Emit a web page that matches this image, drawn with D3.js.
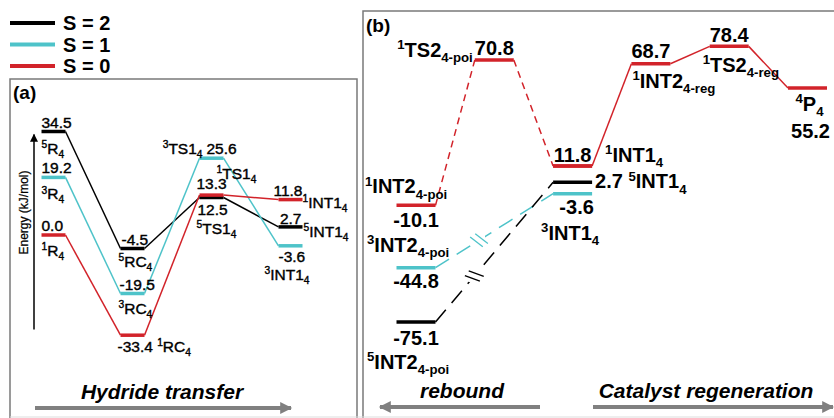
<!DOCTYPE html>
<html>
<head>
<meta charset="utf-8">
<script src="https://cdn.jsdelivr.net/npm/d3@7"></script>
<style>
  body { margin: 0; background: #fff; }
  svg { display: block; font-family: 'Liberation Sans', Arial, sans-serif; }
  .thin { stroke: #000; stroke-width: 0.4px; }
</style>
</head>
<body>
<div id="chart"></div>
<script>
// spin states and colours
const spins = ['S = 2', 'S = 1', 'S = 0'];
const spinColors = ['#000000', '#4ec3c9', '#d2232a'];

// panel (a): hydride transfer
const stagesA = ['R', 'RC', 'TS1', 'INT1'];
const quintetA = [34.5, -4.5, 12.5, 2.7];
const tripletA = [19.2, -19.5, 25.6, -3.6];
const singletA = [0.0, -33.4, 13.3, 11.8];

// panel (b): rebound / catalyst regeneration
const stagesB = ['INT2-poi', 'TS2-poi', 'INT1', 'INT2-reg', 'TS2-reg', 'P'];
const singletRebound = [-10.1, 70.8, 11.8];          // INT2-poi -> TS2-poi -> INT1
const singletRegen = [11.8, 68.7, 78.4, 55.2];       // INT1 -> INT2-reg -> TS2-reg -> P
const tripletB = [-44.8, -3.6];                      // INT2-poi -> INT1
const quintetB = [-75.1, 2.7];                       // INT2-poi -> INT1

const W = 834, H = 418;
const svg = d3.select('#chart').append('svg')
  .attr('width', W).attr('height', H);

// arrow markers
const defs = svg.append('defs');
defs.append('marker').attr('id', 'grayHead')
  .attr('viewBox', '0 0 10 10').attr('refX', 9).attr('refY', 5)
  .attr('markerUnits', 'userSpaceOnUse')
  .attr('markerWidth', 16).attr('markerHeight', 12).attr('orient', 'auto-start-reverse')
  .append('path').attr('d', 'M0,0 L10,5 L0,10 Z').attr('fill', '#808080');
defs.append('marker').attr('id', 'blackHead')
  .attr('viewBox', '0 0 10 10').attr('refX', 9).attr('refY', 5)
  .attr('markerUnits', 'userSpaceOnUse')
  .attr('markerWidth', 12).attr('markerHeight', 8).attr('orient', 'auto')
  .append('path').attr('d', 'M0,0 L10,5 L0,10 Z').attr('fill', '#000');

// text with ^sup and _sub pieces, e.g. "^1TS2_{4-poi}"
function rich(g, x, y, str, size, anchor, weight) {
  const t = g.append('text').attr('x', x).attr('y', y)
    .attr('text-anchor', anchor || 'start')
    .style('font-size', size + 'px')
    .style('font-weight', weight || 'normal');
  const re = /([\^_])(\{[^}]*\}|.)|([^\^_]+)/g;
  let m, shift = 0;
  while ((m = re.exec(str))) {
    if (m[3]) {
      t.append('tspan').attr('dy', -shift).style('font-size', size + 'px').text(m[3]);
      shift = 0;
    } else {
      const s = m[1] === '^' ? -size * 0.38 : size * 0.26;
      t.append('tspan').attr('dy', s - shift)
        .style('font-size', (size * 0.66) + 'px')
        .text(m[2].replace(/[{}]/g, ''));
      shift = s;
    }
  }
  return t;
}

// legend
const legend = svg.append('g').selectAll('g')
  .data(spins).enter().append('g')
  .attr('transform', (d, i) => 'translate(10,' + (23 + i * 21.5) + ')');
legend.append('line')
  .attr('x1', 0).attr('x2', 45)
  .attr('stroke', (d, i) => spinColors[i]).attr('stroke-width', 4);
legend.append('text')
  .attr('x', 53).attr('y', 7)
  .style('font-size', '20px').style('font-weight', 'bold')
  .text(d => d);

// panel frames
svg.append('path')
  .attr('d', 'M10,418 L10,79 L357,79 L357,418')
  .attr('fill', 'none').attr('stroke', '#7a7a7a').attr('stroke-width', 1.5);
svg.append('path')
  .attr('d', 'M363,418 L363,11 L834,11')
  .attr('fill', 'none').attr('stroke', '#7a7a7a').attr('stroke-width', 1.5);
svg.append('line').attr('x1', 10).attr('x2', 834).attr('y1', 417).attr('y2', 417)
  .attr('stroke', '#dddddd').attr('stroke-width', 1);

rich(svg, 13, 99, '(a)', 19, 'start', 'bold');
rich(svg, 366, 32, '(b)', 19, 'start', 'bold');

// ---------------- panel (a) ----------------
const xA = d3.scalePoint().domain(stagesA).range([53.5, 290.5]);
const yA = d3.scaleLinear().domain([-40, 40]).range([355, 115]);
const hwA = 12;
const gA = svg.append('g');

// energy axis arrow
gA.append('line')
  .attr('x1', 34).attr('x2', 34).attr('y1', yA(-31.5)).attr('y2', yA(33.5))
  .attr('stroke', '#000').attr('stroke-width', 1.5)
  .attr('marker-end', 'url(#blackHead)');
gA.append('text')
  .attr('class', 'thin')
  .attr('transform', 'translate(28,' + yA(7.5) + ') rotate(-90)')
  .attr('text-anchor', 'middle')
  .style('font-size', '12px')
  .style('stroke-width', '0.25px')
  .text('Energy (kJ/mol)');

const seriesA = [quintetA, tripletA, singletA];
seriesA.forEach((vals, k) => {
  const col = spinColors[k];
  for (let i = 0; i < vals.length - 1; i++) {
    gA.append('line')
      .attr('x1', xA(stagesA[i]) + hwA).attr('y1', yA(vals[i]))
      .attr('x2', xA(stagesA[i + 1]) - hwA).attr('y2', yA(vals[i + 1]))
      .attr('stroke', col).attr('stroke-width', 1.5);
  }
});
seriesA.forEach((vals, k) => {
  gA.selectAll(null).data(vals).enter().append('line')
    .attr('x1', (d, i) => xA(stagesA[i]) - hwA)
    .attr('x2', (d, i) => xA(stagesA[i]) + hwA)
    .attr('y1', d => yA(d)).attr('y2', d => yA(d))
    .attr('stroke', spinColors[k]).attr('stroke-width', 3.5);
});

// labels panel (a)
const fa = 15.5;
function labA(stage, val, dx, dy, str, anchor, ref) {
  const cx = xA(stage) + (ref === 'L' ? -hwA : ref === 'R' ? hwA : 0);
  rich(gA, cx + dx, yA(val) + dy, str, fa, anchor).attr('class', 'thin');
}
labA('R', 34.5, 0, -4, '34.5', 'start', 'L');
labA('R', 34.5, 0, 22, '^5R_4', 'start', 'L');
labA('R', 19.2, 0, -4, '19.2', 'start', 'L');
labA('R', 19.2, 0, 22, '^3R_4', 'start', 'L');
labA('R', 0.0, 0, -4, '0.0', 'start', 'L');
labA('R', 0.0, 0, 21, '^1R_4', 'start', 'L');
labA('RC', -4.5, 1, -4, '-4.5', 'start', 'L');
labA('RC', -4.5, -2, 18, '^5RC_4', 'start', 'L');
labA('RC', -19.5, -1, -4, '-19.5', 'start', 'L');
labA('RC', -19.5, -2, 20, '^3RC_4', 'start', 'L');
labA('RC', -33.4, -3, 17, '-33.4 ^1RC_4', 'start', 'L');
labA('TS1', 25.6, 7, -4, '25.6', 'start', 'L');
labA('TS1', 25.6, 3, -4, '^3TS1_4', 'end', 'L');
labA('TS1', 25.6, 5, 21, '^1TS1_4', 'start', 'C');
labA('TS1', 13.3, 0, -6, '13.3', 'middle', 'C');
labA('TS1', 12.5, 1, 17.5, '12.5', 'middle', 'C');
labA('TS1', 12.5, -3, 36, '^5TS1_4', 'start', 'L');
labA('INT1', 11.8, 0, -4, '11.8', 'end', 'R');
labA('INT1', 11.8, 0, 8.5, '^1INT1_4', 'start', 'R');
labA('INT1', 2.7, -1, -2.5, '2.7', 'end', 'R');
labA('INT1', 2.7, 1, 10, '^5INT1_4', 'start', 'R');
labA('INT1', -3.6, 0, 16.5, '-3.6', 'start', 'L');
labA('INT1', -3.6, -14, 34, '^3INT1_4', 'start', 'L');

// ---------------- panel (b) ----------------
const xB = d3.scalePoint().domain(stagesB).range([416, 807.5]);
const yB = d3.scaleLinear().domain([-80, 80]).range([330.9, 43.5]);
const hwB = 19.5;
const gB = svg.append('g');

function connect(stages, vals, col, dash) {
  for (let i = 0; i < vals.length - 1; i++) {
    gB.append('line')
      .attr('x1', xB(stages[i]) + hwB).attr('y1', yB(vals[i]))
      .attr('x2', xB(stages[i + 1]) - hwB).attr('y2', yB(vals[i + 1]))
      .attr('stroke', col).attr('stroke-width', 1.5)
      .attr('stroke-dasharray', dash || null);
  }
}
// break mark (two short parallel strokes) on a connector
function breakMark(stages, vals, col, t) {
  const x1 = xB(stages[0]) + hwB, y1 = yB(vals[0]);
  const x2 = xB(stages[1]) - hwB, y2 = yB(vals[1]);
  const len = Math.hypot(x2 - x1, y2 - y1);
  const ux = (x2 - x1) / len, uy = (y2 - y1) / len;
  const cx = x1 + (x2 - x1) * t, cy = y1 + (y2 - y1) * t;
  // stroke direction rotated ~70 degrees from the connector
  const a = 70 * Math.PI / 180;
  const vx = ux * Math.cos(a) - uy * Math.sin(a), vy = ux * Math.sin(a) + uy * Math.cos(a);
  gB.append('rect')
    .attr('x', cx - 6).attr('y', cy - 6).attr('width', 12).attr('height', 12)
    .attr('fill', '#fff');
  [-3, 3].forEach(o => {
    const px = cx + ux * o, py = cy + uy * o;
    gB.append('line')
      .attr('x1', px - vx * 8).attr('y1', py - vy * 8)
      .attr('x2', px + vx * 8).attr('y2', py + vy * 8)
      .attr('stroke', col).attr('stroke-width', 1.3);
  });
}

connect(['INT2-poi', 'TS2-poi', 'INT1'], singletRebound, spinColors[2], '7,5');
connect(['INT1', 'INT2-reg', 'TS2-reg', 'P'], singletRegen, spinColors[2]);
connect(['INT2-poi', 'INT1'], tripletB, spinColors[1], '16,9');
connect(['INT2-poi', 'INT1'], quintetB, spinColors[0], '16,9');
breakMark(['INT2-poi', 'INT1'], tripletB, spinColors[1], 0.37);
breakMark(['INT2-poi', 'INT1'], quintetB, spinColors[0], 0.33);

function levelsB(stages, vals, col) {
  gB.selectAll(null).data(vals).enter().append('line')
    .attr('x1', (d, i) => xB(stages[i]) - hwB)
    .attr('x2', (d, i) => xB(stages[i]) + hwB)
    .attr('y1', d => yB(d)).attr('y2', d => yB(d))
    .attr('stroke', col).attr('stroke-width', 3.5);
}
levelsB(['INT2-poi', 'TS2-poi', 'INT1'], singletRebound, spinColors[2]);
levelsB(['INT1', 'INT2-reg', 'TS2-reg', 'P'], singletRegen, spinColors[2]);
levelsB(['INT2-poi', 'INT1'], tripletB, spinColors[1]);
levelsB(['INT2-poi', 'INT1'], quintetB, spinColors[0]);

// labels panel (b)
const fb = 20;
function labB(stage, val, dx, dy, str, anchor, ref) {
  const cx = xB(stage) + (ref === 'L' ? -hwB : ref === 'R' ? hwB : 0);
  rich(gB, cx + dx, yB(val) + dy, str, fb, anchor, 'bold');
}
labB('TS2-poi', 70.8, -2, -3, '^1TS2_{4-poi}', 'end', 'L');
labB('TS2-poi', 70.8, 0, -5, '70.8', 'middle', 'C');
labB('INT1', 11.8, 0, -4, '11.8', 'middle', 'C');
labB('INT1', 11.8, 13, -4, '^1INT1_4', 'start', 'R');
labB('INT1', 2.7, 3, 6, '2.7 ^5INT1_4', 'start', 'R');
labB('INT1', -3.6, 4, 20, '-3.6', 'middle', 'C');
labB('INT1', -3.6, -12, 46, '^3INT1_4', 'start', 'L');
labB('INT2-poi', -10.1, -51, -12, '^1INT2_{4-poi}', 'start', 'C');
labB('INT2-poi', -10.1, 0, 22, '-10.1', 'middle', 'C');
labB('INT2-poi', -44.8, -49, -16, '^3INT2_{4-poi}', 'start', 'C');
labB('INT2-poi', -44.8, 0, 20, '-44.8', 'middle', 'C');
labB('INT2-poi', -75.1, 0, 23, '-75.1', 'middle', 'C');
labB('INT2-poi', -75.1, -49, 47, '^5INT2_{4-poi}', 'start', 'C');
labB('INT2-reg', 68.7, 0, -6, '68.7', 'middle', 'C');
labB('INT2-reg', 68.7, 1, 24, '^1INT2_{4-reg}', 'start', 'L');
labB('TS2-reg', 78.4, 0, -4.5, '78.4', 'middle', 'C');
labB('TS2-reg', 78.4, -7, 25.5, '^1TS2_{4-reg}', 'start', 'L');
labB('P', 55.2, 2, 23, '^4P_4', 'middle', 'C');
labB('P', 55.2, 3, 50, '55.2', 'middle', 'C');

// process arrows
function processArrow(x1, x2, y, label, lx) {
  svg.append('line')
    .attr('x1', x1).attr('x2', x2).attr('y1', y).attr('y2', y)
    .attr('stroke', '#808080').attr('stroke-width', 4)
    .attr('marker-end', 'url(#grayHead)');
  svg.append('text')
    .attr('x', lx).attr('y', y - 9)
    .attr('text-anchor', 'middle')
    .style('font-size', '21px').style('font-weight', 'bold').style('font-style', 'italic')
    .text(label);
}
processArrow(35, 291, 408, 'Hydride transfer', 162);
processArrow(540, 380, 407, 'rebound', 462);
processArrow(593, 833, 407, 'Catalyst regeneration', 706);
</script>
</body>
</html>
